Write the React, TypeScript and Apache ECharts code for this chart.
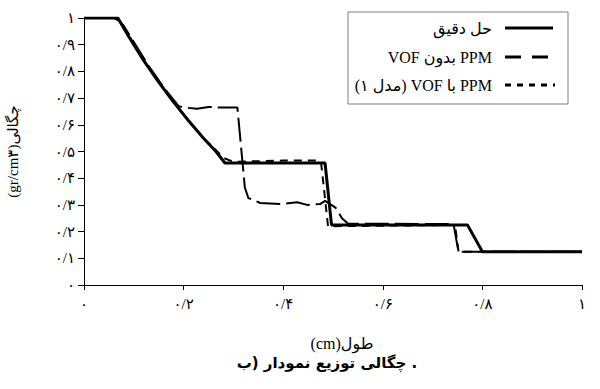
import { useEffect, useRef } from "react";
import * as echarts from "echarts";

// Exact solution (solid)
const xExact = [0, 0.068, 0.09, 0.12, 0.15, 0.18, 0.21, 0.24, 0.265, 0.283, 0.484, 0.497, 0.77, 0.8, 1.0];
const yExact = [1, 1, 0.93, 0.84, 0.76, 0.685, 0.615, 0.55, 0.5, 0.457, 0.457, 0.225, 0.225, 0.125, 0.125];

// PPM without VOF (long dash)
const xNoVof = [0, 0.065, 0.08, 0.1, 0.13, 0.16, 0.19, 0.2, 0.227, 0.25, 0.27, 0.3, 0.308, 0.323, 0.33, 0.354, 0.394, 0.428, 0.448, 0.474, 0.484, 0.505, 0.518, 0.53, 0.742, 0.752, 1.0];
const yNoVof = [1, 1, 0.97, 0.91, 0.82, 0.74, 0.67, 0.665, 0.66, 0.667, 0.665, 0.665, 0.665, 0.365, 0.326, 0.307, 0.303, 0.31, 0.3, 0.303, 0.315, 0.29, 0.25, 0.23, 0.228, 0.125, 0.125];

// PPM with VOF, model 1 (short dash)
const xVof = [0, 0.06, 0.075, 0.09, 0.12, 0.15, 0.18, 0.21, 0.24, 0.265, 0.28, 0.295, 0.31, 0.4, 0.472, 0.476, 0.49, 0.745, 0.752, 1.0];
const yVof = [1, 1, 0.985, 0.935, 0.84, 0.76, 0.685, 0.615, 0.55, 0.505, 0.476, 0.465, 0.462, 0.466, 0.466, 0.46, 0.22, 0.225, 0.125, 0.125];

// legend labels, written so that a left-to-right line shows them as in the reference
const legendNames = ["حل دقیق", "VOF بدون PPM", "(۱ مدل) VOF با PPM"];

const xName = "(cm)طول";
const yName = "(gr/cm۳)چگالی";
// caption words, in the order they appear from left to right
const titleWords = ["ب)", "نمودار", "توزیع", "چگالی", "."];

const FA_DIGITS = "۰۱۲۳۴۵۶۷۸۹";
const toFa = (v: number) => {
  if (Math.abs(v) < 1e-9) return "۰";
  if (Math.abs(v - 1) < 1e-9) return "۱";
  return v
    .toFixed(1)
    .replace(/[0-9]/g, (d) => FA_DIGITS[+d])
    .replace(".", "/");
};

const zip = (xs: number[], ys: number[]) => xs.map((x, i) => [x, ys[i]]);

const SERIF = "'Liberation Serif', 'DejaVu Sans', serif";
const TITLE_FONT = "'DejaVu Sans', 'Liberation Serif', serif";

export default function App() {
  const ref = useRef<HTMLDivElement>(null);
  useEffect(() => {
    if (!ref.current) return;
    const chart = echarts.init(ref.current, undefined, { renderer: "svg" });
    const legendX = 348;
    const legendY = 12;
    const rows = [28, 57, 85];
    const rich: Record<string, any> = {};
    titleWords.forEach((_, i) => {
      rich["w" + i] = {
        fontFamily: TITLE_FONT,
        fontSize: 15,
        fontWeight: "bold",
        color: "#000",
      };
    });
    rich.sp = { fontFamily: TITLE_FONT, fontSize: 15, fontWeight: "bold", color: "#000" };
    const titleText = titleWords.map((w, i) => `{w${i}|${w}}`).join("{sp| }");
    chart.setOption({
      animation: false,
      backgroundColor: "#fff",
      grid: { left: 84, right: 18, top: 18, bottom: 104, containLabel: false, outerBoundsMode: "none" },
      xAxis: {
        type: "value",
        min: 0,
        max: 1,
        interval: 0.2,
        name: xName,
        nameLocation: "middle",
        nameGap: 50,
        nameTextStyle: { fontFamily: SERIF, fontSize: 16, color: "#000", padding: [0, 0, 0, 18] },
        axisLine: { lineStyle: { color: "#000", width: 1 } },
        axisTick: { show: true, length: 5, lineStyle: { color: "#000" } },
        axisLabel: { formatter: toFa, fontFamily: SERIF, fontSize: 15, color: "#000", margin: 11 },
        splitLine: { show: false },
      },
      yAxis: {
        type: "value",
        min: 0,
        max: 1,
        interval: 0.1,
        name: yName,
        nameLocation: "middle",
        nameRotate: 90,
        nameGap: 64,
        nameTextStyle: { fontFamily: SERIF, fontSize: 15, color: "#000" },
        axisLine: { show: true, lineStyle: { color: "#000", width: 1 } },
        axisTick: { show: true, length: 6, lineStyle: { color: "#000" } },
        axisLabel: { formatter: toFa, fontFamily: SERIF, fontSize: 15, color: "#000", margin: 9 },
        splitLine: { show: false },
      },
      series: [
        {
          name: "PPM بدون VOF",
          type: "line",
          data: zip(xNoVof, yNoVof),
          showSymbol: false,
          symbol: "none",
          lineStyle: { color: "#000", width: 2, type: [24, 6] },
          z: 2,
        },
        {
          name: "PPM با VOF (مدل ۱)",
          type: "line",
          data: zip(xVof, yVof),
          showSymbol: false,
          symbol: "none",
          lineStyle: { color: "#000", width: 2, type: [8, 6] },
          z: 3,
        },
        {
          name: "حل دقیق",
          type: "line",
          data: zip(xExact, yExact),
          showSymbol: false,
          symbol: "none",
          lineStyle: { color: "#000", width: 3 },
          z: 4,
        },
      ],
      graphic: [
        {
          type: "rect",
          shape: { x: legendX, y: legendY, width: 220, height: 92 },
          style: { fill: "#fff", stroke: "#7f7f7f", lineWidth: 1 },
          z: 10,
        },
        {
          type: "line",
          shape: { x1: 505, y1: rows[0], x2: 553, y2: rows[0] },
          style: { stroke: "#000", lineWidth: 3 },
          z: 11,
        },
        {
          type: "line",
          shape: { x1: 505, y1: rows[1], x2: 553, y2: rows[1] },
          style: { stroke: "#000", lineWidth: 3, lineDash: [16, 11] },
          z: 11,
        },
        {
          type: "line",
          shape: { x1: 505, y1: rows[2], x2: 555, y2: rows[2] },
          style: { stroke: "#000", lineWidth: 3, lineDash: [6, 6] },
          z: 11,
        },
        ...legendNames.map((n, i) => ({
          type: "text",
          x: 492,
          y: rows[i],
          style: {
            text: n,
            fill: "#000",
            font: `16px ${SERIF}`,
            align: "right",
            verticalAlign: "middle",
          },
          z: 11,
        })),
        {
          type: "text",
          x: 327,
          y: 363,
          style: {
            text: titleText,
            rich,
            align: "center",
            verticalAlign: "middle",
          },
          z: 11,
        },
      ],
    });
    return () => chart.dispose();
  }, []);
  return (
    <div
      ref={ref}
      dir="ltr"
      style={{ position: "fixed", left: 0, top: 0, width: 600, height: 389, direction: "ltr" }}
    />
  );
}
